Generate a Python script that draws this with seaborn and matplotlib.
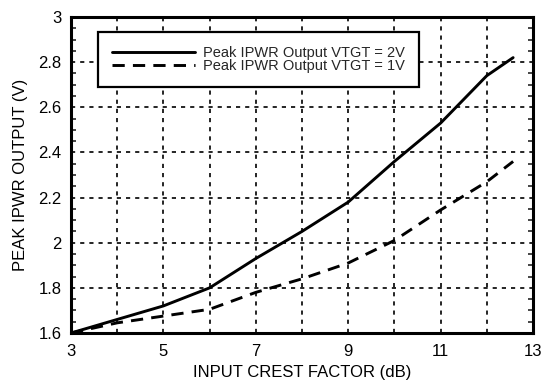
import numpy as np
import pandas as pd
import matplotlib
matplotlib.use("Agg")
import matplotlib.pyplot as plt
import seaborn as sns
from matplotlib.ticker import MultipleLocator, FormatStrFormatter
from matplotlib.lines import Line2D

# Data
crest_db = [3, 4, 5, 6, 7, 8, 9, 10, 11, 12, 12.57]
vtgt_2v = [1.60, 1.66, 1.72, 1.80, 1.93, 2.05, 2.18, 2.36, 2.53, 2.74, 2.82]
vtgt_1v = [1.60, 1.645, 1.675, 1.705, 1.78, 1.84, 1.91, 2.01, 2.145, 2.27, 2.36]
series_names = ["Peak IPWR Output VTGT = 2V", "Peak IPWR Output VTGT = 1V"]
x_ticks = [3, 5, 7, 9, 11, 13]
y_ticks = [1.6, 1.8, 2.0, 2.2, 2.4, 2.6, 2.8, 3.0]

sns.set_theme(style="white")
plt.rcParams["font.family"] = ["Liberation Sans", "DejaVu Sans"]

df = pd.DataFrame({
    "x": crest_db * 2,
    "y": vtgt_2v + vtgt_1v,
    "series": [series_names[0]] * len(crest_db) + [series_names[1]] * len(crest_db),
})

fig = plt.figure(figsize=(5.46, 3.85), dpi=100)
ax = fig.add_axes([71 / 546, 1 - 333 / 385, 462 / 546, 316 / 385])

LW = 2.1
DASH = (4.2, 2.8)
sns.lineplot(data=df, x="x", y="y", hue="series", style="series",
             palette=["black", "black"], dashes=[(None, None), DASH],
             linewidth=LW, ax=ax, legend=False)

ax.set_xlim(3, 13)
ax.set_ylim(1.6, 3.0)
ax.set_xticks(x_ticks)
ax.xaxis.set_minor_locator(MultipleLocator(1))
ax.set_yticks(y_ticks)
ax.yaxis.set_major_formatter(FormatStrFormatter("%g"))
ax.yaxis.set_minor_locator(MultipleLocator(0.05))

grid_ls = (0, (2.5, 3))
ax.grid(True, which="major", axis="both", color="black", linestyle=grid_ls, linewidth=1.2)
ax.grid(True, which="minor", axis="x", color="black", linestyle=grid_ls, linewidth=1.2)

for s in ax.spines.values():
    s.set_visible(True)
    s.set_color("black")
    s.set_linewidth(2.2)

ax.tick_params(axis="both", which="major", length=0, labelsize=12, colors="black")
ax.tick_params(axis="x", which="major", pad=8)
ax.tick_params(axis="y", which="major", pad=7)
ax.tick_params(axis="y", which="minor", direction="in", length=3.5, width=1.2, left=True, right=True)
ax.tick_params(axis="x", which="minor", length=0)

ax.set_xlabel("INPUT CREST FACTOR (dB)", fontsize=12, color="black", labelpad=4)
ax.set_ylabel("PEAK IPWR OUTPUT (V)", fontsize=12, color="black", labelpad=7)

handles = [Line2D([], [], color="black", lw=LW),
           Line2D([], [], color="black", lw=LW, dashes=DASH)]
leg = ax.legend(handles, series_names, loc="upper left", bbox_to_anchor=(0.058, 0.953),
                fontsize=10.5, frameon=True, fancybox=False, handlelength=5.7,
                labelspacing=-0.05, borderpad=0.95, handletextpad=0.55, borderaxespad=0)
leg.get_frame().set_edgecolor("black")
leg.get_frame().set_linewidth(1.6)
leg.get_frame().set_alpha(1)

fig.savefig("out.png", dpi=100)
